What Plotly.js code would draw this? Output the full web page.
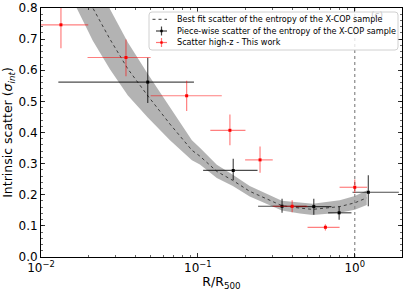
<!DOCTYPE html>
<html>
<head>
<meta charset="utf-8">
<script src="https://cdn.plot.ly/plotly-3.0.1.min.js"></script>
<style>html,body{margin:0;padding:0;background:#fff;}#chart{width:407px;height:291px;}</style>
</head>
<body>
<div id="chart"></div>
<script>
// Best-fit curve (X-COP entropy scatter) with its uncertainty band
const fitR     = [0.0165, 0.0214, 0.0275, 0.0358, 0.0481, 0.0664, 0.0916, 0.103, 0.132, 0.167, 0.214, 0.343, 0.447, 0.540, 0.802, 1.000, 1.192];
const fitMid   = [0.920, 0.800, 0.700, 0.604, 0.517, 0.427, 0.343, 0.324, 0.275, 0.246, 0.211, 0.165, 0.157, 0.153, 0.162, 0.174, 0.190];
const fitUpper = [1.030, 0.905, 0.797, 0.689, 0.587, 0.479, 0.375, 0.351, 0.296, 0.264, 0.228, 0.181, 0.174, 0.171, 0.182, 0.196, 0.214];
const fitLower = [0.810, 0.695, 0.603, 0.519, 0.447, 0.375, 0.311, 0.297, 0.254, 0.228, 0.194, 0.149, 0.140, 0.135, 0.142, 0.152, 0.167];

// Piece-wise scatter (black)
const pwR      = [0.0479, 0.168, 0.344, 0.548, 0.795, 1.22];
const pwRlo    = [0.0129, 0.108, 0.242, 0.420, 0.676, 0.967];
const pwRhi    = [0.0944, 0.240, 0.493, 0.710, 0.953, 1.91];
const pwS      = [0.562, 0.278, 0.163, 0.162, 0.142, 0.208];
const pwSlo    = [0.495, 0.247, 0.142, 0.136, 0.120, 0.163];
const pwShi    = [0.640, 0.316, 0.187, 0.187, 0.163, 0.263];

// Scatter high-z, this work (red)
const hzR      = [0.0134, 0.0348, 0.0848, 0.160, 0.249, 0.399, 0.650, 1.000];
const hzRlo    = [0.0098, 0.0198, 0.0500, 0.120, 0.200, 0.300, 0.500, 0.800];
const hzRhi    = [0.0200, 0.0500, 0.1420, 0.201, 0.300, 0.500, 0.800, 1.200];
const hzS      = [0.746, 0.641, 0.518, 0.407, 0.312, 0.163, 0.0955, 0.224];
const hzSlo    = [0.671, 0.581, 0.469, 0.359, 0.271, 0.144, 0.085, 0.206];
const hzShi    = [0.821, 0.699, 0.566, 0.458, 0.355, 0.182, 0.105, 0.249];

const legendLabels = [
  'Best fit scatter of the entropy of the X-COP sample',
  'Piece-wise scatter of the entropy of the X-COP sample',
  'Scatter high-z - This work'
];

const xTickVals = [0.01, 0.1, 1];
const xTickText = ['10<sup>−2</sup>', '10<sup>−1</sup>', '10<sup>0</sup>'];
const yTickVals = [0, 0.1, 0.2, 0.3, 0.4, 0.5, 0.6, 0.7, 0.8];
const yTickText = ['0.0', '0.1', '0.2', '0.3', '0.4', '0.5', '0.6', '0.7', '0.8'];
const xMinor = [0.02,0.03,0.04,0.05,0.06,0.07,0.08,0.09,0.2,0.3,0.4,0.5,0.6,0.7,0.8,0.9,2];

const minus = (a, b) => a.map((v, i) => v - b[i]);
const minusR = (a, b) => a.map((v, i) => b[i] - v);

const traces = [
  {x: fitR, y: fitLower, mode: 'lines', line: {width: 0, color: 'rgba(0,0,0,0)'}, hoverinfo: 'skip'},
  {x: fitR, y: fitUpper, mode: 'lines', fill: 'tonexty', fillcolor: 'rgba(128,128,128,0.6)', line: {width: 0, color: 'rgba(0,0,0,0)'}, hoverinfo: 'skip'},
  {x: fitR, y: fitMid, mode: 'lines', line: {color: '#222', width: 0.8, dash: 'dot'}},
  {x: [1, 1], y: [0, 0.8], mode: 'lines', line: {color: '#888', width: 1.2, dash: 'dot'}, hoverinfo: 'skip'},
  {x: pwR, y: pwS, mode: 'markers', marker: {symbol: 'square', size: 3, color: 'black'},
   error_x: {type: 'data', symmetric: false, array: minusR(pwR, pwRhi), arrayminus: minus(pwR, pwRlo), color: 'rgba(0,0,0,0.7)', thickness: 1.2, width: 0},
   error_y: {type: 'data', symmetric: false, array: minusR(pwS, pwShi), arrayminus: minus(pwS, pwSlo), color: 'rgba(0,0,0,0.7)', thickness: 1.2, width: 0}},
  {x: hzR, y: hzS, mode: 'markers', marker: {symbol: 'square', size: 3, color: 'red'},
   error_x: {type: 'data', symmetric: false, array: minusR(hzR, hzRhi), arrayminus: minus(hzR, hzRlo), color: 'rgba(255,0,0,0.5)', thickness: 1.2, width: 0},
   error_y: {type: 'data', symmetric: false, array: minusR(hzS, hzShi), arrayminus: minus(hzS, hzSlo), color: 'rgba(255,0,0,0.5)', thickness: 1.2, width: 0}}
];

// Plot area in pixels (for placing the hand-drawn legend)
const M = {l: 41, r: 5, t: 8, b: 34};
const W = 407, H = 291;
const pw = W - M.l - M.r, ph = H - M.t - M.b;
const px = v => (v - M.l) / pw;
const py = v => 1 - (v - M.t) / ph;

const shapes = [];
const annotations = [];
// legend box with rounded corners
(function () {
  const x0 = px(149), x1 = px(398), y0 = py(50), y1 = py(12);
  const rx = 3 / pw, ry = 3 / ph;
  shapes.push({type: 'path', xref: 'paper', yref: 'paper', layer: 'above',
    path: `M ${x0 + rx} ${y1} L ${x1 - rx} ${y1} Q ${x1} ${y1} ${x1} ${y1 - ry} L ${x1} ${y0 + ry} Q ${x1} ${y0} ${x1 - rx} ${y0} L ${x0 + rx} ${y0} Q ${x0} ${y0} ${x0} ${y0 + ry} L ${x0} ${y1 - ry} Q ${x0} ${y1} ${x0 + rx} ${y1} Z`,
    fillcolor: 'rgba(255,255,255,0.8)', line: {color: '#d0d0d0', width: 1}});
})();
const rowY = [19.3, 31, 42.5];
// entry 1: dotted line
shapes.push({type: 'line', xref: 'paper', yref: 'paper', layer: 'above', x0: px(152.5), x1: px(167), y0: py(rowY[0]), y1: py(rowY[0]), line: {color: '#222', width: 0.9, dash: 'dot'}});
// entries 2,3: error-bar crosses
[['rgba(0,0,0,0.75)', 'black', rowY[1]], ['rgba(255,0,0,0.55)', 'red', rowY[2]]].forEach(([c, mc, y]) => {
  shapes.push({type: 'line', xref: 'paper', yref: 'paper', layer: 'above', x0: px(156), x1: px(167), y0: py(y), y1: py(y), line: {color: c, width: 1.2}});
  shapes.push({type: 'line', xref: 'paper', yref: 'paper', layer: 'above', x0: px(161.5), x1: px(161.5), y0: py(y - 4.5), y1: py(y + 4.5), line: {color: c, width: 1.2}});
  shapes.push({type: 'rect', xref: 'paper', yref: 'paper', layer: 'above', x0: px(160.3), x1: px(162.7), y0: py(y - 1.2), y1: py(y + 1.2), fillcolor: mc, line: {width: 0}});
});
legendLabels.forEach((t, i) => {
  annotations.push({xref: 'paper', yref: 'paper', x: px(175), y: py(rowY[i]), xanchor: 'left', yanchor: 'middle',
    text: t, showarrow: false, font: {family: 'DejaVu Sans', size: 8.1, color: 'black'}});
});
annotations.unshift({xref: 'paper', yref: 'paper', x: px(377), y: py(15), xanchor: 'center', yanchor: 'middle', text: '(c)', showarrow: false,
  font: {family: 'DejaVu Sans', size: 9, color: '#c8c8c8'}});

const axisCommon = {
  showline: true, linecolor: 'black', linewidth: 1, mirror: 'allticks',
  ticks: 'inside', ticklen: 4, tickwidth: 0.8, tickcolor: 'black',
  showgrid: false, zeroline: false, autorange: false,
  tickfont: {family: 'DejaVu Sans', size: 12, color: 'black'}
};

const layout = {
  width: W, height: H,
  margin: M,
  paper_bgcolor: 'white', plot_bgcolor: 'white',
  font: {family: 'DejaVu Sans', color: 'black'},
  showlegend: false,
  xaxis: Object.assign({}, axisCommon, {
    type: 'log', range: [-2, 0.30103],
    tickmode: 'array', tickvals: xTickVals, ticktext: xTickText,
    minor: {tickmode: 'array', tickvals: xMinor, ticks: 'inside', ticklen: 2, tickcolor: 'black', tickwidth: 0.6},
    title: {text: 'R/R<sub>500</sub>', font: {family: 'DejaVu Sans', size: 12.5}, standoff: 3}
  }),
  yaxis: Object.assign({}, axisCommon, {
    range: [0, 0.8],
    tickmode: 'array', tickvals: yTickVals, ticktext: yTickText,
    minor: {dtick: 0.02, ticks: 'inside', ticklen: 2, tickcolor: 'black', tickwidth: 0.6},
    title: {text: 'Intrinsic scatter (<i>σ</i><sub><i>int</i></sub>)', font: {family: 'DejaVu Sans', size: 12.5}, standoff: 5}
  }),
  shapes: shapes,
  annotations: annotations
};

Plotly.newPlot('chart', traces, layout, {displayModeBar: false, staticPlot: true});
</script>
</body>
</html>
